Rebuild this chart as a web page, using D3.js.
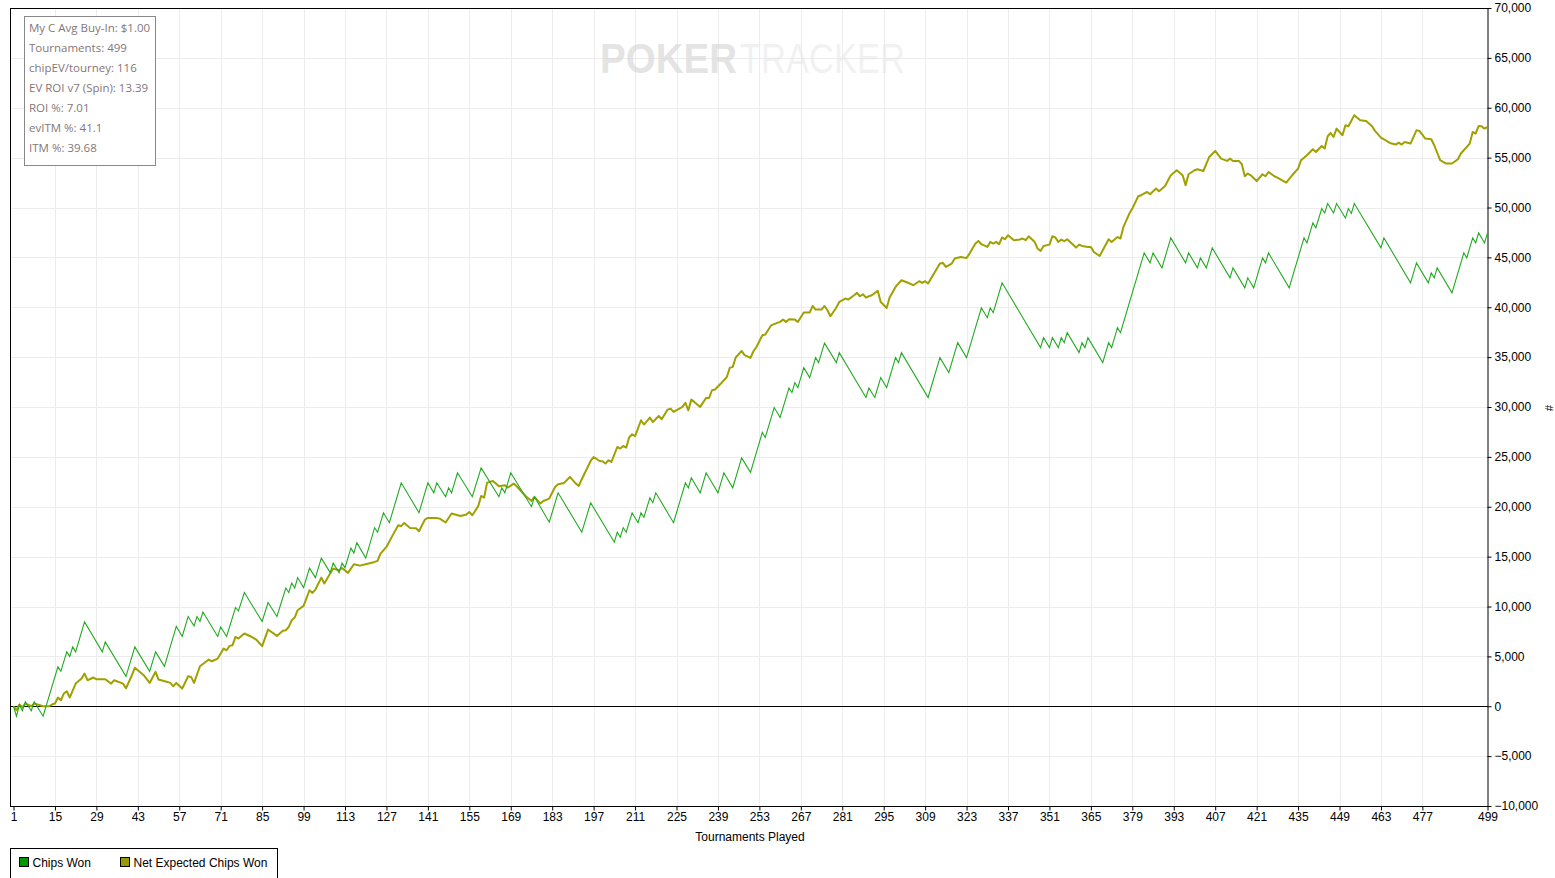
<!DOCTYPE html>
<meta charset="utf-8">
<head>
  <title>Chips Won graph</title>
</head>

<style>
body {
  margin: 0;
  background: #fff;
}
text {
  font-family: "Liberation Sans", Arial, sans-serif;
  font-size: 12px;
  fill: #000;
}
.grid line {
  stroke: #ececec;
  stroke-width: 1;
}
.stats text {
  font-family: "Open Sans", "Noto Sans", sans-serif;
  font-size: 11.5px;
  fill: #857676;
}
</style>

<body>
  <svg width="1555" height="878"></svg>

  <script src="https://cdnjs.cloudflare.com/ajax/libs/d3/7.8.5/d3.min.js"></script>
  <script>
// tick labels
var xTicks = [1, 15, 29, 43, 57, 71, 85, 99, 113, 127, 141, 155, 169, 183, 197, 211, 225, 239,
  253, 267, 281, 295, 309, 323, 337, 351, 365, 379, 393, 407, 421, 435, 449, 463, 477, 499];
var yTicks = [-10000, -5000, 0, 5000, 10000, 15000, 20000, 25000, 30000, 35000,
  40000, 45000, 50000, 55000, 60000, 65000, 70000];

var statsLines = ['My C Avg Buy-In: $1.00', 'Tournaments: 499', 'chipEV/tourney: 116',
  'EV ROI v7 (Spin): 13.39', 'ROI %: 7.01', 'evITM %: 41.1', 'ITM %: 39.68'];

var seriesNames = ['Chips Won', 'Net Expected Chips Won'];

// Chips Won: turning points of the zigzag (tournament #, chips)
var chipsT = [1, 2, 3, 4, 5, 7, 8, 11, 16, 17, 19, 20, 21, 22, 25, 31, 32, 39, 42, 47, 49, 52,
  56, 58, 60, 62, 63, 64, 65, 70, 71, 73, 76, 77, 79, 85, 87, 90, 93, 94, 95, 96, 97, 99, 101,
  103, 105, 108, 109, 111, 112, 113, 115, 116, 117, 120, 123, 124, 126, 128, 132, 138, 141,
  143, 144, 147, 148, 149, 151, 156, 159, 165, 166, 167, 169, 176, 177, 182, 185, 193, 196,
  204, 205, 206, 207, 208, 210, 212, 213, 214, 216, 217, 218, 224, 228, 229, 230, 233, 235,
  239, 241, 244, 247, 250, 254, 255, 258, 260, 263, 264, 265, 266, 268, 270, 272, 273, 275,
  279, 280, 289, 290, 292, 294, 296, 299, 300, 301, 310, 314, 317, 320, 323, 328, 330, 331,
  332, 335, 348, 349, 351, 352, 354, 355, 356, 357, 361, 362, 363, 364, 369, 371, 372, 374,
  375, 383, 385, 386, 389, 392, 397, 398, 401, 402, 404, 406, 412, 413, 417, 418, 420, 423,
  424, 425, 432, 437, 438, 440, 441, 443, 444, 445, 447, 448, 451, 452, 453, 454, 463, 464,
  473, 475, 479, 480, 481, 482, 487, 491, 492, 494, 495, 496, 498, 499];
var chipsV = [0, -1000, 150, -450, 450, -450, 450, -1000, 3950, 3500, 5450, 5000, 5950, 5450,
  8450, 5450, 6450, 3000, 5950, 3500, 5450, 4000, 8000, 7000, 9000, 8050, 9000, 8500, 9450,
  7000, 7950, 7000, 9900, 9550, 11400, 8500, 10400, 9000, 11850, 11400, 12350, 11850, 12900,
  11900, 13850, 12900, 14850, 13400, 14350, 13400, 14350, 13900, 15850, 15350, 16400, 14850,
  17900, 17450, 19400, 18400, 22400, 19400, 22400, 21400, 22400, 21000, 21900, 21400, 23400,
  21000, 23900, 21000, 21900, 21400, 23400, 20000, 21000, 18450, 21400, 17450, 20400, 16450,
  17450, 16950, 17900, 17450, 19400, 18400, 19400, 18950, 20900, 20400, 21400, 18400, 22400,
  21900, 22900, 21400, 23400, 21400, 23400, 21900, 24900, 23450, 27450, 26950, 29950, 28950,
  31900, 31450, 32450, 31950, 33950, 32950, 34950, 34450, 36400, 34450, 35450, 30950, 31900,
  30950, 32950, 31950, 34950, 34450, 35450, 30950, 34950, 33450, 36450, 34950, 39950, 38950,
  39950, 39450, 42450, 35950, 36950, 35950, 36950, 35950, 36950, 36450, 37450, 35450, 36450,
  35950, 36950, 34450, 36450, 35950, 37950, 37450, 45450, 44450, 45450, 43950, 46950, 44450,
  45450, 43950, 44950, 43950, 45950, 42950, 43950, 41950, 42950, 41950, 44950, 44450, 45450,
  41950, 46950, 46450, 48450, 47950, 49900, 49450, 50400, 49450, 50400, 48950, 49900, 49400,
  50400, 45950, 46950, 42450, 44450, 42450, 43450, 42950, 43950, 41450, 45450, 44950, 46950,
  46450, 47450, 46450, 47450];

// Net Expected Chips Won (tournament #, chips)
var evT = [1, 2, 3, 4, 5, 7, 8, 11, 13, 14, 15, 16, 17, 18, 19, 20, 22, 24, 25, 26, 28, 29, 32,
  34, 35, 38, 39, 41, 42, 45, 47, 49, 50, 53, 54, 55, 56, 58, 60, 61, 62, 64, 67, 68, 70, 72,
  73, 74, 75, 76, 77, 79, 81, 83, 85, 87, 90, 92, 93, 94, 95, 96, 97, 99, 101, 102, 103, 105,
  106, 107, 109, 111, 112, 114, 116, 118, 120, 123, 124, 125, 127, 129, 131, 132, 133, 135,
  137, 138, 140, 141, 144, 145, 147, 149, 152, 154, 155, 156, 158, 159, 160, 161, 163, 165,
  167, 168, 170, 171, 174, 176, 177, 179, 180, 182, 184, 185, 187, 189, 191, 192, 193, 196,
  197, 199, 200, 201, 202, 203, 205, 206, 207, 208, 209, 210, 211, 213, 214, 216, 217, 219,
  220, 222, 223, 224, 227, 228, 229, 230, 231, 233, 235, 236, 237, 238, 240, 242, 243, 244,
  245, 247, 248, 250, 251, 252, 254, 255, 257, 259, 260, 261, 262, 263, 265, 266, 268, 270,
  271, 272, 274, 275, 276, 277, 279, 280, 282, 283, 285, 286, 287, 288, 289, 290, 291, 293,
  294, 296, 297, 299, 301, 303, 305, 307, 308, 309, 310, 312, 314, 315, 316, 318, 319, 321,
  322, 323, 324, 326, 327, 328, 330, 331, 332, 333, 334, 335, 336, 337, 339, 341, 342, 343,
  344, 346, 347, 348, 349, 351, 352, 353, 354, 355, 356, 357, 360, 361, 362, 364, 365, 366,
  368, 369, 371, 372, 374, 375, 376, 378, 379, 381, 382, 384, 385, 387, 388, 390, 392, 394,
  396, 397, 398, 400, 401, 403, 405, 407, 409, 411, 412, 413, 415, 416, 417, 418, 419, 421,
  423, 424, 425, 427, 428, 431, 433, 435, 436, 438, 440, 441, 443, 444, 445, 446, 447, 448,
  450, 451, 452, 454, 456, 458, 460, 461, 463, 464, 466, 468, 469, 470, 471, 473, 475, 476,
  478, 480, 481, 483, 485, 487, 489, 490, 493, 494, 495, 496, 497, 498, 499];
var evV = [0, -400, 170, -100, 270, 0, 270, 0, 0, 170, 270, 870, 600, 1270, 1500, 870, 2270,
  2780, 3280, 2610, 2880, 2710, 2710, 2270, 2610, 2270, 1800, 3110, 3850, 3110, 2340, 3450,
  2680, 2440, 2340, 2000, 2340, 1770, 3010, 2940, 2340, 4010, 4680, 4510, 4780, 5780, 5610,
  6050, 6120, 6950, 6790, 7290, 7020, 6690, 6020, 7690, 7050, 7560, 7620, 7960, 8620, 8890,
  9630, 10060, 11630, 11360, 11700, 12900, 12300, 12800, 13800, 13630, 13870, 13370, 14240,
  14100, 14240, 14470, 14570, 15300, 15970, 17080, 18150, 18050, 18380, 17880, 17840, 17540,
  18720, 18880, 18880, 18810, 18420, 19320, 19080, 19220, 19480, 19150, 20050, 21080, 20920,
  22420, 22580, 22050, 22160, 21920, 22320, 22050, 21080, 20580, 20990, 20320, 20580, 20820,
  21990, 22260, 22390, 22990, 22320, 22090, 22760, 24590, 24990, 24590, 24560, 24330, 24660,
  24490, 25990, 25830, 26090, 25930, 26940, 27270, 27070, 28670, 28240, 28940, 28500, 29100,
  28770, 29740, 29840, 29510, 30010, 30410, 29670, 30740, 30510, 30010, 30910, 30910, 31680,
  31750, 32350, 33010, 33920, 34020, 34960, 35620, 35200, 34920, 35590, 36020, 37190, 37260,
  38190, 38430, 38530, 38760, 38530, 38800, 38760, 38530, 39470, 39470, 40130, 39770, 39770,
  40130, 39700, 39100, 39970, 40530, 40870, 40770, 41200, 41440, 41100, 41300, 40970, 41100,
  41200, 41640, 40530, 39930, 40970, 42040, 42710, 42480, 42210, 42610, 42440, 42610, 42380,
  43380, 44380, 44440, 44040, 44380, 44880, 45040, 44980, 44940, 45380, 46390, 46650, 46320,
  46050, 46550, 46390, 46550, 46320, 46990, 46820, 47220, 46720, 46790, 46890, 46720, 47120,
  46550, 45880, 45640, 46140, 46280, 47120, 46990, 46550, 46790, 46620, 46820, 45980, 46280,
  46150, 46050, 46050, 45540, 45140, 45710, 46820, 46550, 47050, 46890, 48050, 49390, 49890,
  51130, 51230, 51560, 51330, 51900, 51630, 52130, 53230, 53730, 53230, 52230, 53330, 53730,
  53830, 53660, 55070, 55670, 54900, 54670, 54900, 54670, 54670, 54340, 53130, 53400, 53230,
  52660, 53330, 53130, 53560, 53130, 53000, 52500, 53230, 53900, 54740, 55240, 55840, 55570,
  56170, 55910, 57140, 57470, 57070, 57910, 57240, 58250, 58150, 59250, 58750, 58680, 58150,
  57680, 57010, 56840, 56470, 56310, 56510, 56310, 56570, 56410, 57740, 57680, 56910, 56840,
  56240, 54740, 54410, 54410, 54840, 55410, 56410, 57570, 57410, 58170, 58150, 57910, 58070];

var chipsColor = '#22aa22';
var evColor = '#a0a000';

// plot box (window.top is reserved, so no bare "top")
var plotL = 11, plotR = 1488, plotT = 8, plotB = 806;

var svg = d3.select('svg');

var x = d3.scaleLinear()
  .domain([1, 499])
  .range([13.5, 1487.5]);

var y = d3.scaleLinear()
  .domain([-10000, 70000])
  .range([plotB, plotT]);

// grid
var grid = svg.append('g').attr('class', 'grid');
grid.selectAll('.gx')
  .data(xTicks.slice(1, -1))
  .enter()
  .append('line')
  .attr('x1', function(d) { return Math.round(x(d)) + 0.5; })
  .attr('x2', function(d) { return Math.round(x(d)) + 0.5; })
  .attr('y1', plotT)
  .attr('y2', plotB);
grid.selectAll('.gy')
  .data(yTicks.slice(1, -1))
  .enter()
  .append('line')
  .attr('x1', plotL)
  .attr('x2', plotR)
  .attr('y1', function(d) { return Math.round(y(d)) + 0.5; })
  .attr('y2', function(d) { return Math.round(y(d)) + 0.5; });

// watermark
svg.append('text')
  .attr('x', 600)
  .attr('y', 73)
  .attr('textLength', 137)
  .attr('lengthAdjust', 'spacingAndGlyphs')
  .style('font-size', '43px')
  .style('font-weight', 'bold')
  .style('fill', '#d8d8d8')
  .style('fill-opacity', 0.7)
  .text('POKER');
svg.append('text')
  .attr('x', 740)
  .attr('y', 73)
  .attr('textLength', 165)
  .attr('lengthAdjust', 'spacingAndGlyphs')
  .style('font-size', '43px')
  .style('fill', '#e8e8e8')
  .style('fill-opacity', 0.6)
  .text('TRACKER');

// frame
svg.append('rect')
  .attr('x', plotL - 0.5)
  .attr('y', plotT + 0.5)
  .attr('width', plotR - plotL + 0.5)
  .attr('height', plotB - plotT)
  .attr('fill', 'none')
  .attr('stroke', '#000')
  .attr('stroke-width', 1);

// zero line
svg.append('line')
  .attr('x1', plotL)
  .attr('x2', plotR)
  .attr('y1', Math.round(y(0)) + 0.5)
  .attr('y2', Math.round(y(0)) + 0.5)
  .attr('stroke', '#000');

// lines
var line = d3.line()
  .x(function(d) { return x(d[0]); })
  .y(function(d) { return y(d[1]); });

var chipsData = d3.zip(chipsT, chipsV);
var evData = d3.zip(evT, evV);

svg.append('path')
  .datum(evData)
  .attr('d', line)
  .attr('fill', 'none')
  .attr('stroke', evColor)
  .attr('stroke-width', 2)
  .attr('stroke-linejoin', 'round');

svg.append('path')
  .datum(chipsData)
  .attr('d', line)
  .attr('fill', 'none')
  .attr('stroke', chipsColor)
  .attr('stroke-width', 1.1);

// axes
var yAxis = d3.axisRight(y)
  .tickValues(yTicks)
  .tickSize(4)
  .tickPadding(3)
  .tickFormat(d3.format(','));
svg.append('g')
  .attr('transform', 'translate(' + (plotR - 0.5) + ',0)')
  .call(yAxis)
  .call(function(g) {
    g.select('.domain').remove();
    g.selectAll('text').style('font-size', '12px').style('font-family', '"Liberation Sans", Arial, sans-serif');
  });

var xAxis = d3.axisBottom(x)
  .tickValues(xTicks)
  .tickSize(4)
  .tickPadding(2)
  .tickFormat(d3.format('d'));
svg.append('g')
  .attr('transform', 'translate(0,' + (plotB + 0.5) + ')')
  .call(xAxis)
  .call(function(g) {
    g.select('.domain').remove();
    g.selectAll('text').style('font-size', '12px').style('font-family', '"Liberation Sans", Arial, sans-serif');
  });

svg.append('text')
  .attr('x', 750)
  .attr('y', 841)
  .attr('text-anchor', 'middle')
  .text('Tournaments Played');

svg.append('text')
  .attr('transform', 'translate(1545,408) rotate(90)')
  .attr('text-anchor', 'middle')
  .style('font-size', '11px')
  .text('#');

// stats box
var stats = svg.append('g').attr('class', 'stats');
stats.append('rect')
  .attr('x', 24.5)
  .attr('y', 16.5)
  .attr('width', 131)
  .attr('height', 149)
  .attr('fill', '#fff')
  .attr('stroke', '#888');
stats.selectAll('text')
  .data(statsLines)
  .enter()
  .append('text')
  .attr('x', 29)
  .attr('y', function(d, i) { return 32 + i * 20; })
  .text(function(d) { return d; });

// legend
var legend = svg.append('g');
legend.append('rect')
  .attr('x', 10.5)
  .attr('y', 848.5)
  .attr('width', 267)
  .attr('height', 40)
  .attr('fill', '#fff')
  .attr('stroke', '#000');
var items = legend.selectAll('.item')
  .data(seriesNames)
  .enter()
  .append('g')
  .attr('transform', function(d, i) { return 'translate(' + (i === 0 ? 19.5 : 120.5) + ',857.5)'; });
items.append('rect')
  .attr('width', 9)
  .attr('height', 9)
  .attr('fill', function(d, i) { return i === 0 ? '#009900' : '#999900'; })
  .attr('stroke', '#000');
items.append('text')
  .attr('x', 13)
  .attr('y', 9)
  .text(function(d) { return d; });
  </script>
</body>
</html>
